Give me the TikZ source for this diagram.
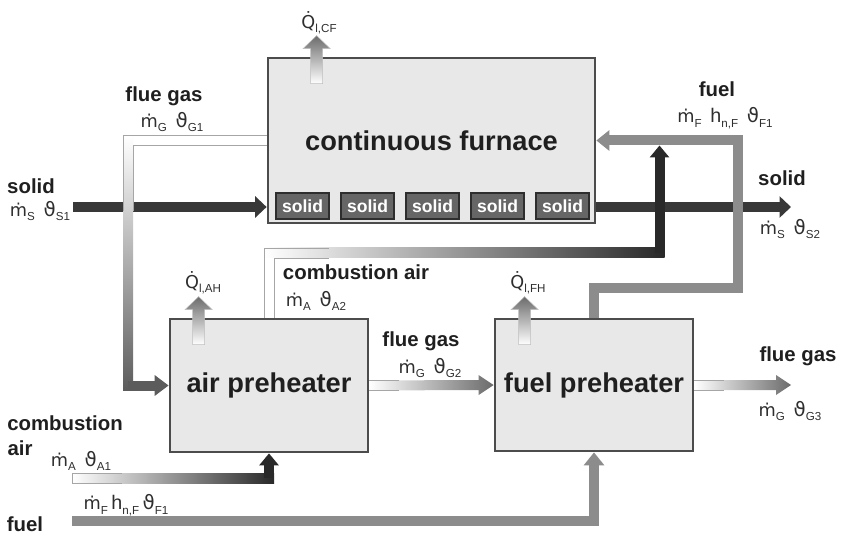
\documentclass[tikz,border=0pt]{standalone}
\usepackage{fontspec}
\setmainfont{Liberation Sans}
\newfontfamily\thfont{DejaVu Sans}
\newfontfamily\dotfont[Scale=0.9]{DejaVu Sans}
\usetikzlibrary{arrows.meta,positioning,calc}
\newcommand\mdot{{\dotfont ṁ}}
\newcommand\qdot{{\dotfont Q̇}}
\newcommand\vth{{\thfont ϑ}}
\newcommand\ix[1]{\raisebox{-0.45ex}{\fontsize{6.6}{7}\selectfont #1}}
\tikzset{
  unitbox/.style={draw=black!70,line width=1.6pt,fill=black!9,text=black!88,font=\fontsize{15.5}{18}\selectfont\bfseries,inner sep=0pt},
  solidbox/.style={draw=black!82,line width=0.8pt,fill=black!60,text=white,font=\fontsize{10}{12}\selectfont\bfseries,minimum width=1.06cm,minimum height=0.52cm,inner sep=0pt},
  solidflow/.style={line width=0.2cm,draw=black!78,-{Triangle[length=0.23cm,width=0.42cm]}},
  fuelflow/.style={line width=0.2cm,draw=black!45,-{Triangle[length=0.26cm,width=0.4cm]}},
  darkflow/.style={line width=0.2cm,draw=black!84,-{Triangle[length=0.24cm,width=0.38cm]}},
  edgeline/.style={draw=black!35,line width=0.5pt},
  streamlbl/.style={font=\fontsize{11.6}{13}\selectfont\bfseries,text=black!88,inner sep=0.5pt},
  varlbl/.style={font=\fontsize{11.2}{12}\selectfont,text=black!82,inner sep=0.5pt},
}

\begin{document}
\begin{tikzpicture}[x=0.02cm,y=-0.02cm]
\tikzset{qloss/.pic={\shadedraw[draw=black!25,line width=0.3pt,top color=black!58,bottom color=white] (-6,27) -- (-6,-8) -- (-13.5,-8) -- (0,-21) -- (13.5,-8) -- (6,-8) -- (6,27) -- cycle;}}
\useasboundingbox (0,0) rectangle (844,533);

% units
\node[unitbox,minimum width=6.54cm,minimum height=3.3cm] (furnace) at (431.5,140.5) {continuous furnace};
\node[unitbox,minimum width=3.96cm,minimum height=2.66cm] (airpre) at (269,385.5) {air preheater};
\node[unitbox,minimum width=3.96cm,minimum height=2.64cm] (fuelpre) at (594,385) {fuel preheater};

\coordinate (solidsrc) at (73,207);
\coordinate (solidsnk) at (791,207);
\coordinate (fuelsrc) at (72,521);
\coordinate (fuelbend) at (737.5,288);
\coordinate (airsrc) at (72,478);
\coordinate (airbend) at (659.5,253);
\coordinate (fgbend) at (128,141);
\coordinate (fgsnk) at (791,385);

% solid and fuel
\draw[solidflow] (solidsrc) -- (solidsrc -| furnace.west);
\draw[solidflow] (solidsrc -| furnace.east) -- (solidsnk);
\draw[fuelflow] (fuelsrc) -| (fuelpre.south);
\draw[fuelflow] (fuelpre.north) |- (fuelbend) |- (furnace.east);

% combustion air
\shade[left color=white,right color=black!84] ($(airsrc)+(0,-5)$) rectangle ($(airsrc -| airpre.south)+(5,5)$);
\draw[edgeline] ($(airsrc)+(50,-5)$) -- ($(airsrc)+(0,-5)$) -- ($(airsrc)+(0,5)$) -- ($(airsrc)+(50,5)$);
\draw[darkflow] (airsrc -| airpre.south) -- (airpre.south);
\shade[left color=white,right color=black!84] ($(airpre.north |- airbend)+(-5,-5)$) rectangle ($(airbend)+(5,5)$);
\draw[edgeline] ($(airpre.north)+(-5,0)$) |- ($(airpre.north |- airbend)+(60,-5)$);
\draw[edgeline] ($(airpre.north)+(5,0)$) |- ($(airpre.north |- airbend)+(60,5)$);
\draw[darkflow] (airbend) -- ($(airbend |- furnace.east)+(0,5)$);

% flue gas
\fill[white] ($(fgbend)+(-5,-5)$) rectangle ($(furnace.west)+(0,5)$);
\shade[top color=white,bottom color=black!64] ($(fgbend)+(-5,-5)$) rectangle ($(fgbend |- airpre.west)+(5,5)$);
\draw[edgeline] ($(furnace.west)+(0,-5)$) -| ($(fgbend)+(-5,70)$);
\draw[edgeline] ($(furnace.west)+(0,5)$) -| ($(fgbend)+(5,70)$);
\draw[line width=0.2cm,draw=black!64,-{Triangle[length=0.28cm,width=0.4cm]}] (fgbend |- airpre.west) -- (airpre.west);
\shade[left color=white,right color=black!58] ($(airpre.east)+(0,-5)$) -- ($(fuelpre.west)+(-15,-5)$) -- ($(fuelpre.west)+(-15,-10)$) -- (fuelpre.west) -- ($(fuelpre.west)+(-15,10)$) -- ($(fuelpre.west)+(-15,5)$) -- ($(airpre.east)+(0,5)$) -- cycle;
\draw[edgeline] ($(airpre.east)+(30,-5)$) -- ($(airpre.east)+(0,-5)$) ($(airpre.east)+(0,5)$) -- ($(airpre.east)+(30,5)$);
\shade[left color=white,right color=black!58] ($(fuelpre.east)+(0,-5)$) -- ($(fgsnk)+(-15,-5)$) -- ($(fgsnk)+(-15,-10)$) -- (fgsnk) -- ($(fgsnk)+(-15,10)$) -- ($(fgsnk)+(-15,5)$) -- ($(fuelpre.east)+(0,5)$) -- cycle;
\draw[edgeline] ($(fuelpre.east)+(30,-5)$) -- ($(fuelpre.east)+(0,-5)$) ($(fuelpre.east)+(0,5)$) -- ($(fuelpre.east)+(30,5)$);

% heat losses
\pic at ($(furnace.north west)+(50,0)$) {qloss};
\pic at ($(airpre.north west)+(30,0)$) {qloss};
\pic at ($(fuelpre.north west)+(31,0)$) {qloss};
\node[varlbl] (qcf) at (319,23) {\qdot\ix{l,CF}};
\node[varlbl] (qah) at (203,283) {\qdot\ix{l,AH}};
\node[varlbl] (qfh) at (528,283) {\qdot\ix{l,FH}};

\foreach \i in {0,...,4}
  \node[solidbox] (solid\i) at (302.5+65*\i,206) {solid};

% stream labels
\node[streamlbl] (fg1name) at (164,96) {flue gas};
\node[varlbl] (fg1var) at (172,122) {\mdot\ix{G}\hspace{5pt}\vth\ix{G1}};
\node[streamlbl] (s1name) at (31,186) {solid};
\node[varlbl] (s1var) at (40,211) {\mdot\ix{S}\hspace{5pt}\vth\ix{S1}};
\node[streamlbl] (f2name) at (717,89) {fuel};
\node[varlbl] (f2var) at (725,118) {\mdot\ix{F}\hspace{5pt}h\ix{n,F}\hspace{5pt}\vth\ix{F1}};
\node[streamlbl] (s2name) at (782,178) {solid};
\node[varlbl] (s2var) at (790,229) {\mdot\ix{S}\hspace{5pt}\vth\ix{S2}};
\node[streamlbl] (a2name) at (356,272) {combustion air};
\node[varlbl] (a2var) at (316,301) {\mdot\ix{A}\hspace{5pt}\vth\ix{A2}};
\node[streamlbl] (fg2name) at (421,341) {flue gas};
\node[varlbl] (fg2var) at (430,368) {\mdot\ix{G}\hspace{5pt}\vth\ix{G2}};
\node[streamlbl] (fg3name) at (798,356) {flue gas};
\node[varlbl] (fg3var) at (790,411) {\mdot\ix{G}\hspace{5pt}\vth\ix{G3}};
\node[streamlbl] (a1name) at (65,423) {combustion};
\node[streamlbl] (a1name2) at (20,448) {air};
\node[varlbl] (a1var) at (81,461) {\mdot\ix{A}\hspace{5pt}\vth\ix{A1}};
\node[varlbl] (f1var) at (126,505) {\mdot\ix{F}\hspace{2pt}h\ix{n,F}\hspace{2pt}\vth\ix{F1}};
\node[streamlbl] (f1name) at (25,524) {fuel};
\end{tikzpicture}
\end{document}
